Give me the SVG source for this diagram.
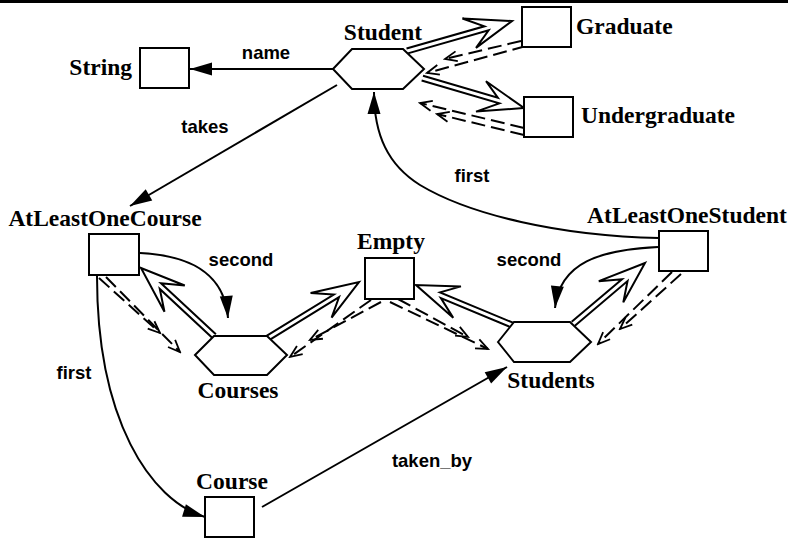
<svg xmlns="http://www.w3.org/2000/svg" width="788" height="539" viewBox="0 0 788 539">
<style>
.bx{fill:#fff;stroke:#000;stroke-width:2}
.nl{font-family:"Liberation Serif","Times New Roman",serif;font-weight:bold;font-size:23.5px;fill:#000}
.el{font-family:"Liberation Sans",Arial,sans-serif;font-weight:bold;font-size:18.5px;fill:#000}
.ar{fill:none;stroke:#000;stroke-width:2;marker-end:url(#fa)}
.hol{fill:none;stroke:#000;stroke-width:2;stroke-linejoin:miter}
.ds{fill:none;stroke:#000;stroke-width:2;stroke-dasharray:14 6;marker-end:url(#oa)}
</style>
<defs>
<marker id="fa" viewBox="-23 -7 24 14" refX="0" refY="0" markerWidth="24" markerHeight="14" markerUnits="userSpaceOnUse" orient="auto"><path d="M0,0 L-22,-6.5 L-22,6.5 Z" fill="#000"/></marker>
<marker id="oa" viewBox="-14 -7 16 14" refX="0" refY="0" markerWidth="16" markerHeight="14" markerUnits="userSpaceOnUse" orient="auto"><path d="M-12,-5 L0,0 L-12,5" fill="none" stroke="#000" stroke-width="1.8"/></marker>
</defs>
<rect x="0" y="0" width="788" height="3" fill="#000"/>
<g id="connectors">
<path class="ar" d="M333,69 L190,69"/>
<path class="ar" d="M337,85 L130,206"/>
<path class="ar" d="M659,238 C560,236 470,215 420,185 C388,165 374,135 374,92"/>
<path class="ar" d="M140,253 C200,256 225,280 228,318"/>
<path class="ar" d="M658,247 C600,250 560,262 555,308"/>
<path class="ar" d="M97,276 C97,420 150,500 205,517"/>
<path class="ar" d="M262,507 L507,367"/>
<path class="hol" transform="translate(512,21) rotate(-15.95)" d="M-109,-2.5 H-28 L-47,-16 L0,0 L-42,16 L-25,2.5 H-109"/>
<path class="hol" transform="translate(524,108) rotate(16.39)" d="M-106,-2.5 H-28 L-44,-15 L0,0 L-45,17 L-25,2.5 H-106"/>
<path class="hol" transform="translate(141,268) rotate(-137.03)" d="M-100,-2.5 H-28 L-47,-16 L0,0 L-44,17 L-25,2.5 H-100"/>
<path class="hol" transform="translate(359,282) rotate(-31.6)" d="M-107,-2.5 H-28 L-47,-16 L0,0 L-42,16 L-25,2.5 H-107"/>
<path class="hol" transform="translate(416,285) rotate(-157.38)" d="M-104,-2.5 H-28 L-47,-16 L0,0 L-42,16 L-25,2.5 H-104"/>
<path class="hol" transform="translate(645,263) rotate(-40.27)" d="M-94,-2.5 H-28 L-47,-16 L0,0 L-42,16 L-25,2.5 H-94"/>
<path class="ds" d="M521,41 L445,59"/>
<path class="ds" d="M526,46 L427,73"/>
<path class="ds" d="M524,128 L420,103"/>
<path class="ds" d="M524,135 L437,114"/>
<path class="ds" d="M99,278 L160,333"/>
<path class="ds" d="M106,277 L180,352"/>
<path class="ds" d="M371,300 L290,357"/>
<path class="ds" d="M381,302 L310,340"/>
<path class="ds" d="M390,302 L488,349"/>
<path class="ds" d="M398,299 L468,337"/>
<path class="ds" d="M672,272 L598,344"/>
<path class="ds" d="M681,274 L620,329"/>
<text class="el" x="266" y="59" text-anchor="middle">name</text>
<text class="el" x="205" y="133" text-anchor="middle">takes</text>
<text class="el" x="472" y="182" text-anchor="middle">first</text>
<text class="el" x="241" y="266" text-anchor="middle">second</text>
<text class="el" x="529" y="266" text-anchor="middle">second</text>
<text class="el" x="74" y="379" text-anchor="middle">first</text>
<text class="el" x="432" y="467" text-anchor="middle">taken_by</text>
</g>
<g id="Student"><polygon class="bx" points="333,69 352,49 403,49 424,69 403,89 352,89"/><text class="nl" x="383" y="40" text-anchor="middle">Student</text></g>
<g id="String"><rect class="bx" x="140" y="48" width="49" height="40"/><text class="nl" x="132" y="75" text-anchor="end">String</text></g>
<g id="Graduate"><rect class="bx" x="522" y="7" width="49" height="40"/><text class="nl" x="576" y="34">Graduate</text></g>
<g id="Undergraduate"><rect class="bx" x="524" y="97" width="49" height="40"/><text class="nl" x="581" y="123">Undergraduate</text></g>
<g id="AtLeastOneCourse"><rect class="bx" x="89" y="234" width="50" height="41"/><text class="nl" x="105" y="226" text-anchor="middle">AtLeastOneCourse</text></g>
<g id="Courses"><polygon class="bx" points="195,355 214,336 267,336 287,355 267,375 214,375"/><text class="nl" x="238" y="398" text-anchor="middle">Courses</text></g>
<g id="Empty"><rect class="bx" x="365" y="258" width="49" height="41"/><text class="nl" x="391" y="249" text-anchor="middle">Empty</text></g>
<g id="Students"><polygon class="bx" points="498,342 514,322 570,322 591,342 570,362 514,362"/><text class="nl" x="551" y="388" text-anchor="middle">Students</text></g>
<g id="AtLeastOneStudent"><rect class="bx" x="659" y="231" width="49" height="40"/><text class="nl" x="687" y="223" text-anchor="middle">AtLeastOneStudent</text></g>
<g id="Course"><rect class="bx" x="205" y="497" width="49" height="40"/><text class="nl" x="232" y="489" text-anchor="middle">Course</text></g>
</svg>
